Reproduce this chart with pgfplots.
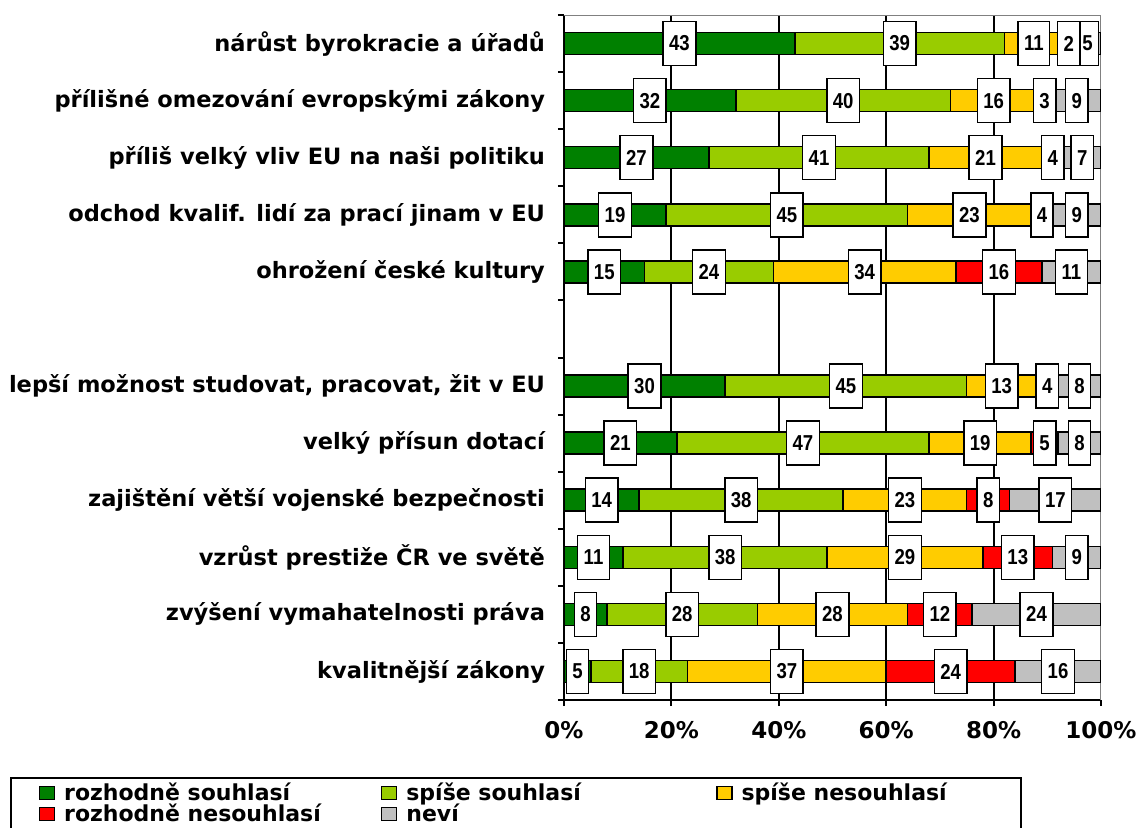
\documentclass[border=0pt]{standalone}
\usepackage{pgfplots}
\pgfplotsset{compat=1.18}
\usepackage{fontspec}
\usepackage{graphicx}
\setmainfont{DejaVu Sans}
\newfontfamily\numfont{Liberation Sans}

\definecolor{dgreen}{RGB}{0,128,0}
\definecolor{lgreen}{RGB}{153,204,0}
\definecolor{yell}{RGB}{255,204,0}
\definecolor{rred}{RGB}{255,0,0}
\definecolor{lgray}{RGB}{192,192,192}

\begin{document}
\begin{tikzpicture}
\path[use as bounding box] (-282pt,-63.5pt) rectangle (288.5pt,350pt);
\begin{axis}[
  at={(0,0)}, anchor=south west,
  scale only axis, width=268.5pt, height=342.5pt,
  xbar stacked, bar width=11pt,
  y dir=reverse,
  xmin=0, xmax=100, ymin=-0.5, ymax=11.5,
  axis x line*=bottom, axis y line*=left,
  axis line style={line width=1pt, -},
  tick align=outside,
  major tick length=3pt,
  tick style={black, line width=1pt},
  /pgf/number format/assume math mode=true,
  xtick={0,20,...,100},
  xticklabel={\pgfmathprintnumber{\tick}\%},
  xticklabel style={font=\fontsize{11.5}{13}\selectfont\bfseries, yshift=-4pt},
  extra x ticks={20,40,60,80},
  extra x tick labels={},
  extra x tick style={grid=major, major tick length=0pt},
  grid style={black, line width=1pt},
  ytick={-0.5,0.5,...,11.5},
  yticklabels={},
  extra y ticks={0,1,2,3,4,5,6,7,8,9,10,11},
  extra y tick labels={
    nárůst byrokracie a úřadů,
    přílišné omezování evropskými zákony,
    příliš velký vliv EU na naši politiku,
    odchod kvalif. lidí za prací jinam v EU,
    ohrožení české kultury,
    {},
    {lepší možnost studovat, pracovat, žit v EU},
    velký přísun dotací,
    zajištění větší vojenské bezpečnosti,
    vzrůst prestiže ČR ve světě,
    zvýšení vymahatelnosti práva\ ,
    kvalitnější zákony},
  extra y tick style={major tick length=0pt,
    yticklabel style={font=\fontsize{11.25}{13}\selectfont\bfseries, xshift=-6pt}},
  point meta=rawx,
  nodes near coords={\scalebox{0.86}[1]{\numfont\bfseries\pgfmathprintnumber{\pgfplotspointmeta}}},
  every node near coord/.append style={anchor=center, fill=white, draw=black,
    line width=0.75pt, minimum height=22pt, inner xsep=3pt, inner ysep=0pt,
    font=\fontsize{10.8}{12}\selectfont},
  legend columns=3,
  legend cell align=left,
  legend image code/.code={\draw[#1, draw=black, line width=0.6pt] (0pt,-3.25pt) rectangle (7.5pt,3.25pt);},
  legend style={at={(axis description cs:-1.0317,-0.1124)}, anchor=north west,
    draw=black, line width=1pt, font=\fontsize{11}{11.5}\selectfont\bfseries,
    inner xsep=14pt, inner ysep=2.5pt,
    nodes={inner ysep=0pt},
    /tikz/every even column/.append style={column sep=0pt}},
]
\addplot[fill=dgreen, draw=black, line width=0.75pt] coordinates {
  (43,0) (32,1) (27,2) (19,3) (15,4) (30,6) (21,7) (14,8) (11,9) (8,10) (5,11)};
\addplot[fill=lgreen, draw=black, line width=0.75pt] coordinates {
  (39,0) (40,1) (41,2) (45,3) (24,4) (45,6) (47,7) (38,8) (38,9) (28,10) (18,11)};
\addplot[fill=yell, draw=black, line width=0.75pt] coordinates {
  (11,0) (16,1) (21,2) (23,3) (34,4) (13,6) (19,7) (23,8) (29,9) (28,10) (37,11)};
\addplot[fill=rred, draw=black, line width=0.75pt] coordinates {
  (2,0) (3,1) (4,2) (4,3) (16,4) (4,6) (5,7) (8,8) (13,9) (12,10) (24,11)};
\addplot[fill=lgray, draw=black, line width=0.75pt] coordinates {
  (5,0) (9,1) (7,2) (9,3) (11,4) (8,6) (8,7) (17,8) (9,9) (24,10) (16,11)};
\addlegendentry{\makebox[159pt][l]{\hspace{2.5pt}rozhodně souhlasí}}
\addlegendentry{\makebox[155.5pt][l]{\hspace{2.5pt}spíše souhlasí}}
\addlegendentry{\makebox[126pt][l]{\hspace{2.5pt}spíše nesouhlasí}}
\addlegendentry{\makebox[159pt][l]{\hspace{2.5pt}rozhodně nesouhlasí}}
\addlegendentry{\makebox[155.5pt][l]{\hspace{2.5pt}neví}}
\draw[gray, line width=0.75pt] (axis description cs:0,1) -- (axis description cs:1,1) -- (axis description cs:1,0);
\end{axis}
\end{tikzpicture}
\end{document}
